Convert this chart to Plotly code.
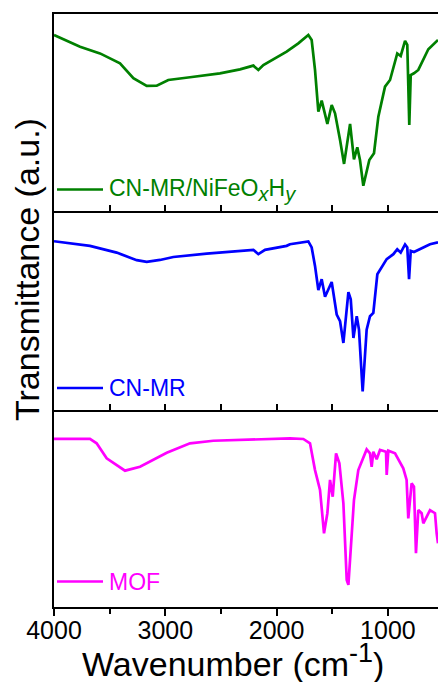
import plotly.graph_objects as go

# FTIR spectra, wavenumber (cm-1) vs. transmittance (a.u., offset per panel)
wn_nife = [4000, 3766, 3587, 3407, 3287, 3167, 3077, 2973, 2778, 2509, 2329, 2209, 2164, 2119,
           1910, 1880, 1805, 1715, 1685, 1655, 1625, 1595, 1574, 1544, 1505, 1475, 1430, 1394,
           1340, 1305, 1275, 1251, 1221, 1167, 1125, 1086, 1026, 981, 916, 885, 846, 826, 808,
           795, 766, 727, 637, 577, 550]
t_nife = [89.3, 83.4, 80.0, 75.0, 67.4, 63.5, 63.6, 66.5, 67.9, 69.9, 71.9, 73.8, 71.6, 74.1,
          80.9, 82.1, 85.1, 89.3, 86.8, 71.6, 50.4, 56.0, 51.3, 44.2, 53.8, 49.6, 36.0, 23.9,
          44.2, 26.2, 32.3, 25.9, 12.8, 25.9, 29.3, 47.9, 63.1, 66.5, 80.0, 78.7, 86.4, 84.3, 43.7,
          69.0, 69.9, 71.6, 82.1, 85.1, 86.8]

wn_cnmr = [4000, 3677, 3437, 3257, 3167, 3048, 2928, 2628, 2209, 2164, 2104, 1910, 1880, 1715,
           1685, 1655, 1625, 1595, 1565, 1505, 1460, 1430, 1400, 1355, 1334, 1310, 1280, 1260,
           1227, 1191, 1161, 1131, 1095, 1011, 951, 916, 885, 846, 826, 810, 795, 766, 682, 622,
           550]
t_cnmr = [84.8, 82.5, 79.1, 75.3, 74.4, 75.4, 76.9, 78.6, 80.5, 78.3, 80.5, 82.5, 83.3, 84.7,
          81.7, 72.4, 60.3, 65.7, 56.9, 64.3, 48.0, 44.6, 33.7, 59.2, 55.6, 36.2, 47.1, 40.4,
          9.3, 40.4, 47.1, 48.8, 68.2, 75.8, 78.3, 80.8, 79.1, 83.2, 81.7, 65.7, 80.0, 79.4, 81.7,
          83.3, 84.2]

wn_mof = [4000, 3677, 3617, 3527, 3362, 3227, 2987, 2778, 2569, 2179, 1880, 1760, 1700, 1655,
          1610, 1574, 1544, 1520, 1496, 1466, 1436, 1400, 1370, 1355, 1340, 1305, 1266, 1191,
          1161, 1146, 1131, 1101, 1071, 1017, 1011, 996, 936, 891, 862, 832, 817, 787, 766, 748,
          727, 697, 682, 622, 577, 562, 550]
t_mof = [85.3, 85.3, 83.1, 75.5, 69.2, 71.2, 78.3, 83.1, 84.4, 85.1, 85.6, 85.3, 83.1, 69.5,
         59.4, 37.4, 47.6, 64.5, 56.0, 78.0, 72.9, 52.6, 13.7, 11.2, 23.9, 54.3, 69.5, 80.0,
         78.0, 71.2, 78.8, 75.0, 79.7, 78.8, 67.0, 79.3, 78.0, 72.9, 70.4, 64.5, 45.0, 62.8,
         61.1, 27.3, 49.2, 47.6, 42.5, 49.2, 47.6, 37.4, 32.3]

SUB = '<sub><span style="font-size:20px"><i>{}</i></span></sub>'
labels = ["CN-MR/NiFeO" + SUB.format("x") + "H" + SUB.format("y"), "CN-MR", "MOF"]
colors = ["#008000", "#0000ff", "#ff00ff"]
x_range = [4000, 550]

FONT = "Liberation Sans, Arial, sans-serif"

fig = go.Figure()
series = [(wn_nife, t_nife), (wn_cnmr, t_cnmr), (wn_mof, t_mof)]
axis_ids = ["", "2", "3"]
for (x, y), c, ax in zip(series, colors, axis_ids):
    fig.add_trace(go.Scatter(x=x, y=y, mode="lines", line=dict(color=c, width=2.7),
                             xaxis="x" + ax, yaxis="y" + ax, showlegend=False))

# panel layout: top, middle, bottom (fractions of plot height)
H = 593.0
domains = [[(607 - 211) / H, 1.0], [(607 - 410) / H, (607 - 211) / H], [0.0, (607 - 410) / H]]

layout = dict(
    width=438, height=682,
    margin=dict(l=54, r=0, t=14, b=75),
    paper_bgcolor="white", plot_bgcolor="white",
    font=dict(family=FONT, color="black"),
    showlegend=False,
)

for i, ax in enumerate(axis_ids):
    bottom = i == 2
    xa = dict(
        range=x_range, domain=[0, 1], anchor="y" + ax,
        showline=True, linecolor="black", linewidth=1.6, mirror=(i == 0),
        showgrid=False, zeroline=False,
        ticks="outside" if bottom else "inside",
        tickvals=[4000, 3000, 2000, 1000],
        ticklen=7 if bottom else 6, tickwidth=1.5, tickcolor="black",
        minor=dict(tickvals=[3500, 2500, 1500, 500], ticks="outside" if bottom else "inside",
                   ticklen=5 if bottom else 6, tickwidth=1.5, tickcolor="black"),
        showticklabels=bottom,
        tickfont=dict(family=FONT, size=25, color="black"),
    )
    if bottom:
        xa["ticklabelstandoff"] = -7
    else:
        xa["matches"] = "x3"
    ya = dict(
        range=[0, 100], domain=domains[i], anchor="x" + ax,
        showline=True, linecolor="black", linewidth=1.6,
        showgrid=False, zeroline=False, ticks="", showticklabels=False,
    )
    layout["xaxis" + ax] = xa
    layout["yaxis" + ax] = ya

fig.update_layout(**layout)

# legend samples inside each panel
leg_y_px = [189.5, 388, 581.5]
shapes = []
annotations = []
for lab, c, ypx in zip(labels, colors, leg_y_px):
    yp = (607 - ypx) / H
    shapes.append(dict(type="line", xref="paper", yref="paper",
                       x0=(57 - 54) / 384, x1=(103 - 54) / 384, y0=yp, y1=yp,
                       line=dict(color=c, width=2.7)))
    annotations.append(dict(text=lab, xref="paper", yref="paper",
                            x=(107 - 54) / 384, y=yp, xanchor="left", yanchor="middle",
                            showarrow=False, font=dict(family=FONT, size=23, color=c)))

annotations.append(dict(text="Transmittance (a.u.)", xref="paper", yref="paper",
                        x=(27 - 54) / 384, y=(607 - 270) / H, textangle=-90,
                        xanchor="center", yanchor="middle", showarrow=False,
                        font=dict(family=FONT, size=34, color="black")))
annotations.append(dict(text='Wavenumber (cm<sup><span style="font-size:27px">-1</span></sup>)',
                        xref="paper", yref="paper",
                        x=(233 - 54) / 384, y=(607 - 660) / H,
                        xanchor="center", yanchor="middle", showarrow=False,
                        font=dict(family=FONT, size=34, color="black")))

fig.update_layout(shapes=shapes, annotations=annotations)
fig.write_html("out.html")
